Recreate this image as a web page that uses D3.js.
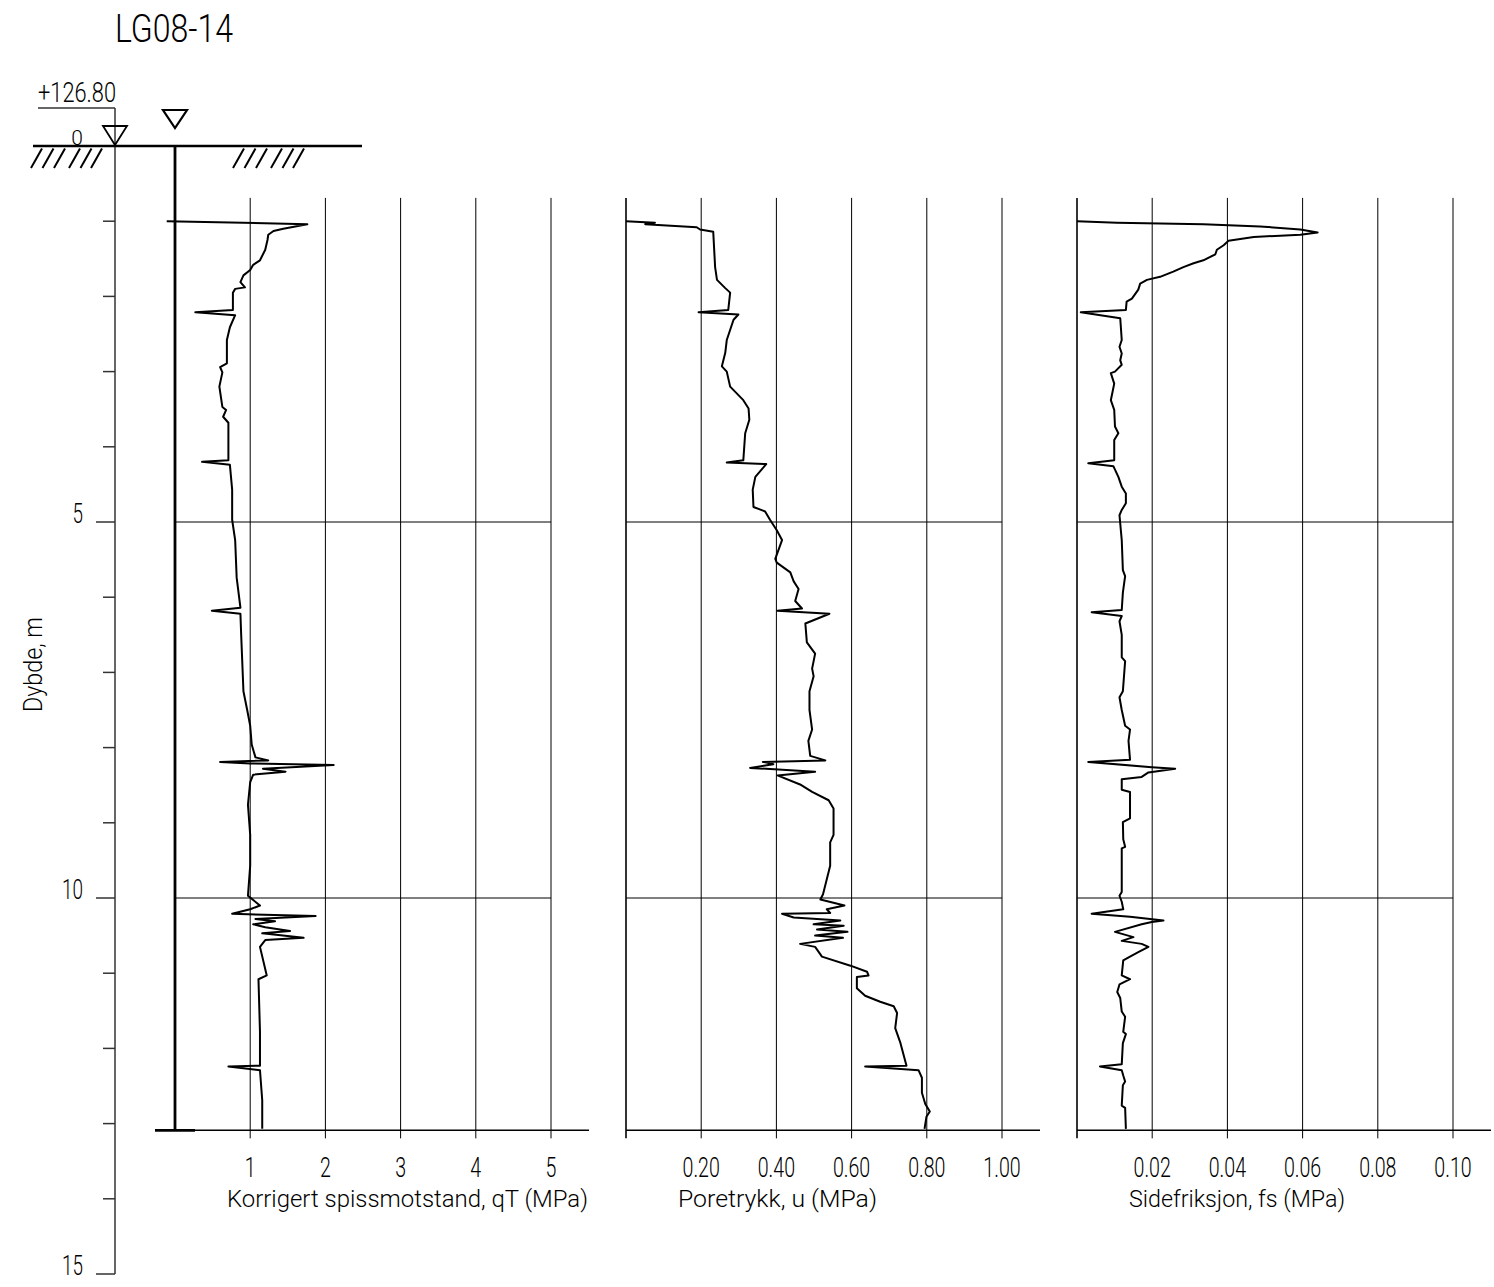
<!DOCTYPE html>
<html>
<head>
<meta charset="utf-8">
<script src="https://cdn.jsdelivr.net/npm/d3@7"></script>
<style>
body{margin:0;background:#fff;}
text{font-family:Roboto,"DejaVu Sans Condensed",sans-serif;font-weight:300;fill:#000;}
</style>
</head>
<body>
<svg id="svg" width="1494" height="1287"></svg>
<script>
const title="LG08-14";
const elevation="+126.80";
const depthLabels=[5,10,15];
const gridDepths=[5,10];
const qtTicks=[1,2,3,4,5];
const uTicks=[0.2,0.4,0.6,0.8,1.0];
const fsTicks=[0.02,0.04,0.06,0.08,0.10];
const topDepth=0.69, bottomDepth=13.09;

// [dybde m, verdi MPa]
const qtData=[[1.00,-0.11],[1.04,1.76],[1.10,1.44],[1.13,1.31],[1.18,1.24],[1.25,1.23],[1.38,1.20],[1.52,1.13],[1.58,1.04],[1.65,1.00],[1.72,0.91],[1.81,0.87],[1.88,0.93],[1.90,0.80],[1.95,0.77],[2.18,0.77],[2.21,0.27],[2.25,0.80],[2.41,0.73],[2.58,0.69],[2.89,0.69],[2.94,0.60],[3.01,0.63],[3.20,0.59],[3.47,0.63],[3.51,0.68],[3.60,0.64],[3.68,0.71],[4.18,0.71],[4.20,0.36],[4.24,0.73],[4.57,0.76],[4.97,0.76],[5.24,0.80],[5.74,0.82],[6.14,0.87],[6.18,0.49],[6.22,0.87],[6.50,0.88],[7.00,0.90],[7.25,0.91],[7.50,0.96],[7.71,1.00],[7.96,1.02],[8.13,1.07],[8.17,1.24],[8.19,0.60],[8.21,1.00],[8.23,2.11],[8.28,1.17],[8.32,1.47],[8.36,1.04],[8.46,1.00],[8.76,0.97],[9.16,1.00],[9.57,1.00],[9.97,0.97],[10.10,1.13],[10.15,1.00],[10.21,0.76],[10.24,1.87],[10.28,1.07],[10.31,1.33],[10.35,1.04],[10.39,1.20],[10.44,1.53],[10.47,1.16],[10.53,1.71],[10.56,1.20],[10.65,1.13],[11.03,1.22],[11.08,1.11],[11.78,1.13],[12.23,1.13],[12.24,0.71],[12.29,1.13],[12.69,1.16],[13.07,1.16]];

const uData=[[1.00,0],[1.02,0.077],[1.04,0.051],[1.08,0.188],[1.11,0.197],[1.14,0.232],[1.61,0.237],[1.78,0.242],[1.89,0.264],[1.95,0.277],[2.18,0.272],[2.21,0.193],[2.24,0.299],[2.31,0.286],[2.58,0.268],[2.75,0.264],[2.93,0.255],[3.00,0.268],[3.20,0.277],[3.38,0.312],[3.49,0.326],[3.64,0.328],[3.82,0.317],[4.18,0.312],[4.21,0.268],[4.23,0.373],[4.40,0.344],[4.57,0.337],[4.80,0.339],[4.86,0.370],[4.97,0.383],[5.11,0.401],[5.24,0.415],[5.49,0.397],[5.54,0.401],[5.67,0.437],[5.79,0.446],[5.89,0.459],[6.05,0.450],[6.15,0.468],[6.18,0.403],[6.22,0.541],[6.35,0.477],[6.60,0.481],[6.75,0.503],[6.95,0.495],[7.05,0.499],[7.25,0.488],[7.50,0.488],[7.76,0.495],[7.91,0.485],[8.11,0.490],[8.17,0.530],[8.19,0.364],[8.22,0.392],[8.27,0.330],[8.32,0.503],[8.37,0.403],[8.49,0.463],[8.59,0.495],[8.70,0.539],[8.81,0.552],[9.16,0.552],[9.26,0.543],[9.57,0.543],[9.77,0.533],[9.95,0.524],[10.02,0.517],[10.10,0.581],[10.15,0.534],[10.20,0.543],[10.21,0.415],[10.26,0.446],[10.30,0.570],[10.35,0.499],[10.37,0.579],[10.42,0.508],[10.45,0.589],[10.50,0.503],[10.53,0.577],[10.61,0.463],[10.65,0.503],[10.75,0.517],[10.78,0.521],[10.90,0.597],[10.98,0.641],[11.03,0.645],[11.05,0.614],[11.20,0.614],[11.30,0.636],[11.38,0.676],[11.44,0.712],[11.53,0.721],[11.73,0.716],[11.93,0.730],[12.08,0.738],[12.23,0.746],[12.24,0.636],[12.29,0.778],[12.39,0.787],[12.59,0.787],[12.74,0.796],[12.84,0.808],[12.91,0.799],[13.07,0.794]];

const fsData=[[1.00,0.0000],[1.02,0.0106],[1.04,0.0336],[1.07,0.0487],[1.11,0.0594],[1.15,0.0640],[1.18,0.0594],[1.21,0.0470],[1.26,0.0403],[1.32,0.0390],[1.38,0.0372],[1.44,0.0368],[1.52,0.0336],[1.56,0.0310],[1.61,0.0283],[1.67,0.0256],[1.74,0.0221],[1.78,0.0186],[1.83,0.0168],[1.91,0.0163],[2.03,0.0146],[2.07,0.0132],[2.18,0.0130],[2.21,0.0010],[2.29,0.0115],[2.58,0.0119],[2.67,0.0113],[2.76,0.0119],[2.85,0.0115],[2.91,0.0119],[3.00,0.0101],[3.02,0.0090],[3.16,0.0099],[3.38,0.0090],[3.51,0.0099],[3.73,0.0101],[3.82,0.0110],[3.91,0.0099],[4.18,0.0099],[4.22,0.0030],[4.26,0.0097],[4.40,0.0110],[4.53,0.0119],[4.62,0.0130],[4.75,0.0130],[4.84,0.0119],[4.91,0.0113],[5.24,0.0119],[5.64,0.0122],[5.72,0.0128],[5.94,0.0122],[6.17,0.0119],[6.20,0.0039],[6.25,0.0119],[6.32,0.0113],[6.50,0.0119],[6.80,0.0119],[6.85,0.0128],[7.25,0.0122],[7.33,0.0113],[7.50,0.0119],[7.71,0.0128],[7.76,0.0141],[7.91,0.0137],[8.16,0.0141],[8.19,0.0030],[8.26,0.0199],[8.28,0.0261],[8.33,0.0190],[8.39,0.0172],[8.42,0.0119],[8.56,0.0119],[8.59,0.0141],[8.94,0.0141],[8.99,0.0122],[9.22,0.0123],[9.32,0.0128],[9.34,0.0119],[9.92,0.0119],[9.97,0.0113],[10.05,0.0119],[10.15,0.0123],[10.21,0.0039],[10.25,0.0141],[10.30,0.0230],[10.32,0.0199],[10.35,0.0172],[10.45,0.0101],[10.52,0.0150],[10.57,0.0119],[10.61,0.0172],[10.65,0.0190],[10.72,0.0163],[10.78,0.0141],[10.83,0.0123],[11.03,0.0119],[11.08,0.0141],[11.15,0.0113],[11.25,0.0107],[11.33,0.0115],[11.51,0.0119],[11.58,0.0128],[11.78,0.0123],[11.81,0.0130],[11.93,0.0122],[12.21,0.0119],[12.24,0.0061],[12.29,0.0119],[12.36,0.0123],[12.44,0.0128],[12.49,0.0122],[12.76,0.0119],[12.79,0.0128],[13.07,0.0130]];

const svg=d3.select("#svg");
const y=d3.scaleLinear().domain([0,15]).range([146,1274]);

// smal skrift: trykk sammen teksten horisontalt
const narrow=(sel,k)=>
{
    sel.each(function(){
        const w=this.getComputedTextLength();
        d3.select(this).attr("textLength",w*k).attr("lengthAdjust","spacingAndGlyphs");
    });
}

const panels=[
    {data:qtData,domain:[0,5],ticks:qtTicks,fmt:d3.format("d"),label:"Korrigert spissmotstand, qT (MPa)",len:361,x0:175},
    {data:uData,domain:[0,1],ticks:uTicks,fmt:d3.format(".2f"),label:"Poretrykk, u (MPa)",len:199,x0:626},
    {data:fsData,domain:[0,0.1],ticks:fsTicks,fmt:d3.format(".2f"),label:"Sidefriksjon, fs (MPa)",len:216,x0:1077}
];

const yTop=y(topDepth), yBot=y(bottomDepth);

panels.forEach((p,i)=>
{
    const x=d3.scaleLinear().domain(p.domain).range([p.x0,p.x0+376]);
    const g=svg.append("g");
    // vertikale rutenett
    const vt=i==0?p.ticks:[p.domain[0]].concat(p.ticks);
    g.selectAll(".v").data(vt).enter().append("line")
        .attr("x1",d=>x(d)).attr("x2",d=>x(d))
        .attr("y1",yTop).attr("y2",yBot+8)
        .attr("stroke","#000").attr("stroke-width",d=>d==0?1.6:1);
    g.selectAll(".h").data(gridDepths).enter().append("line")
        .attr("x1",p.x0).attr("x2",x(p.domain[1]))
        .attr("y1",d=>y(d)).attr("y2",d=>y(d))
        .attr("stroke","#000").attr("stroke-width",1);
    g.append("line").attr("x1",p.x0).attr("x2",p.x0+414).attr("y1",yBot).attr("y2",yBot)
        .attr("stroke","#000").attr("stroke-width",1.5);
    g.selectAll(".t").data(p.ticks).enter().append("text")
        .attr("x",d=>x(d)).attr("y",1177).attr("text-anchor","middle")
        .style("font-size","28px").text(d=>p.fmt(d))
        .call(narrow,0.7);
    g.append("text").attr("x",p.x0+52).attr("y",1207)
        .attr("textLength",p.len).attr("lengthAdjust","spacingAndGlyphs")
        .style("font-size","24px").text(p.label);
    const line=d3.line().x(d=>x(d[1])).y(d=>y(d[0])).curve(d3.curveLinear);
    g.append("path").datum(p.data).attr("d",line)
        .attr("fill","none").attr("stroke","#000").attr("stroke-width",2).attr("stroke-linejoin","round");
});

// dybdeakse
svg.append("line").attr("x1",115).attr("x2",115).attr("y1",108).attr("y2",y(15))
    .attr("stroke","#333").attr("stroke-width",1.5);
svg.selectAll(".dt").data(d3.range(1,16)).enter().append("line")
    .attr("x1",d=>d%5==0?96:103).attr("x2",115)
    .attr("y1",d=>y(d)).attr("y2",d=>y(d))
    .attr("stroke","#333").attr("stroke-width",1.5);
svg.selectAll(".dl").data(depthLabels).enter().append("text")
    .attr("x",83).attr("y",d=>y(d)+1).attr("text-anchor","end")
    .style("font-size","27px").text(d=>d)
    .call(narrow,0.7);
svg.append("text").attr("transform","translate(42,712) rotate(-90)")
    .attr("textLength",95).attr("lengthAdjust","spacingAndGlyphs")
    .style("font-size","26px").text("Dybde, m");

// stang
svg.append("line").attr("x1",175).attr("x2",175).attr("y1",y(0)).attr("y2",yBot)
    .attr("stroke","#000").attr("stroke-width",2.8);
svg.append("line").attr("x1",155).attr("x2",195).attr("y1",yBot).attr("y2",yBot)
    .attr("stroke","#000").attr("stroke-width",2.8);

// terreng
svg.append("line").attr("x1",33).attr("x2",362).attr("y1",y(0)).attr("y2",y(0))
    .attr("stroke","#000").attr("stroke-width",2.6);
const hatchX=[31,42.5,54,69,80.5,91,233,244.5,256,271,282.5,293];
svg.selectAll(".ha").data(hatchX).enter().append("line")
    .attr("x1",d=>d).attr("x2",d=>d+11).attr("y1",168).attr("y2",148.5)
    .attr("stroke","#000").attr("stroke-width",2);
svg.append("path").attr("d","M103,126 L127,126 L115,145 Z")
    .attr("fill","none").attr("stroke","#000").attr("stroke-width",1.8);
svg.append("path").attr("d","M163,110 L187,110 L175,128 Z")
    .attr("fill","none").attr("stroke","#000").attr("stroke-width",2.2);
svg.append("line").attr("x1",38).attr("x2",115).attr("y1",108).attr("y2",108)
    .attr("stroke","#333").attr("stroke-width",1.5);
svg.append("text").attr("x",38).attr("y",102).attr("textLength",78).attr("lengthAdjust","spacingAndGlyphs")
    .style("font-size","27px").text(elevation);
svg.append("text").attr("x",77).attr("y",145).attr("text-anchor","middle")
    .style("font-size","21px").text("0");

svg.append("text").attr("x",115).attr("y",42).attr("textLength",118).attr("lengthAdjust","spacingAndGlyphs")
    .style("font-size","38px").text(title);
</script>
</body>
</html>
